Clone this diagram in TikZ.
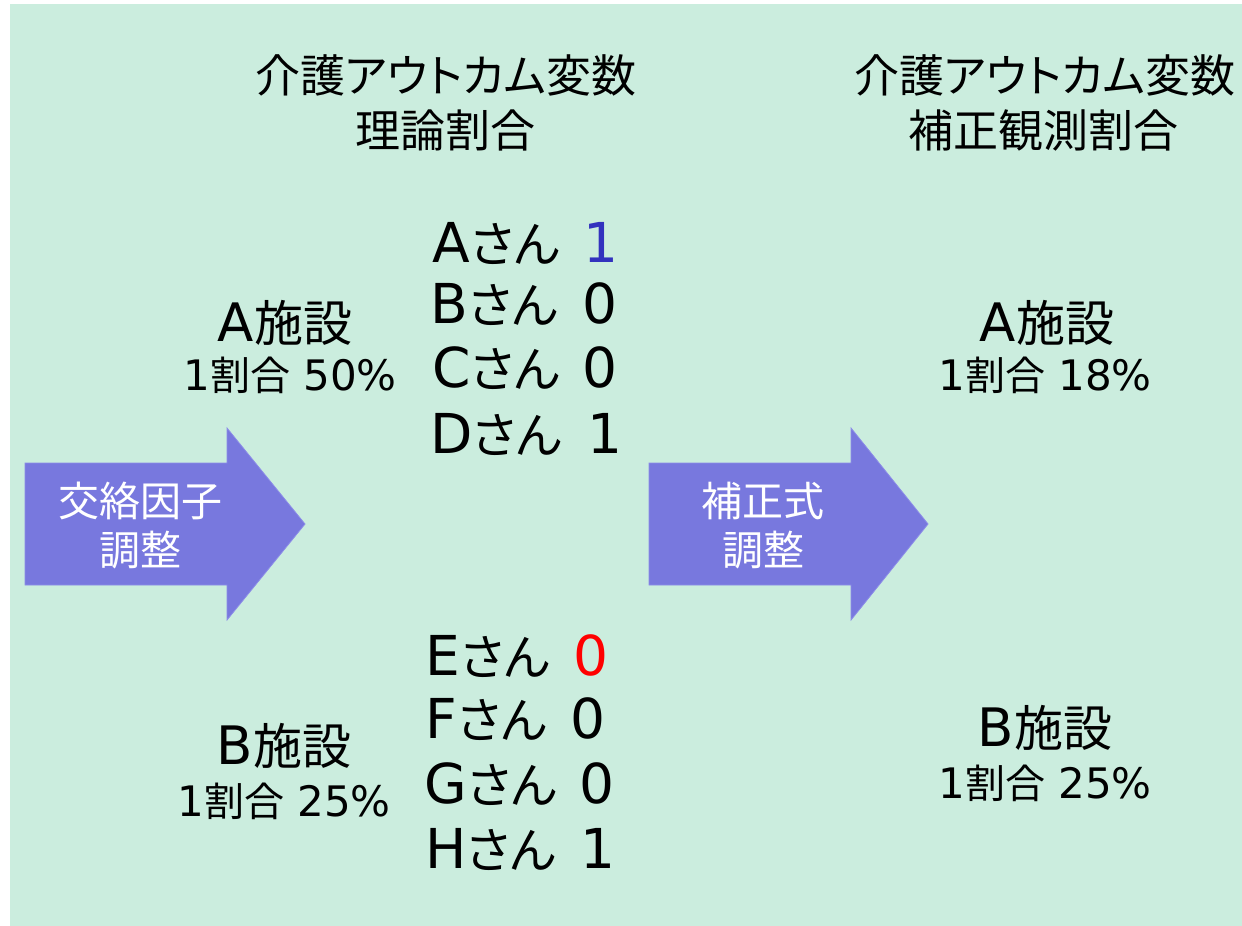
\documentclass[tikz,border=0pt]{standalone}
\usepackage{fontspec}
\setmainfont{DejaVu Sans}
\newfontfamily\jp{Noto Sans CJK JP}
\newfontfamily\jpp[RawFeature=+palt]{Noto Sans CJK JP}
\definecolor{bggreen}{RGB}{203,237,222}
\definecolor{arrowfill}{RGB}{120,120,222}
\definecolor{arrowline}{RGB}{140,140,232}
\definecolor{numblue}{RGB}{50,50,190}
\newcommand\rowtxt[1]{{\fontsize{55}{55}\selectfont #1}{\jpp\fontsize{49}{49}\selectfont さん}}
\newcommand\factxt[1]{{\fontsize{53}{53}\selectfont #1}{\jp\fontsize{49}{49}\selectfont 施設}}
\newcommand\pcttxt[1]{{\fontsize{42}{42}\selectfont 1}{\jp\fontsize{40}{40}\selectfont 割合}{\fontsize{42}{42}\selectfont\ #1\%}}
\tikzset{
  ttl/.style={font=\jpp\fontsize{45}{45}\selectfont, inner sep=0, anchor=center},
  fac/.style={inner sep=0, anchor=center},
  rowname/.style={inner sep=0, anchor=base west},
  num/.style={inner sep=0, anchor=base, font=\fontsize{55}{55}\selectfont},
  arrtxt/.style={font=\jp\fontsize{41}{41}\selectfont, text=white, inner sep=0, anchor=center},
  bigarrow/.style={fill=arrowfill, draw=arrowline, line width=0.8pt, line join=miter}
}
\begin{document}
\begin{tikzpicture}[x=1pt,y=-1pt]
\useasboundingbox (0,0) rectangle (1242,926);
\fill[bggreen] (10,4) rectangle (1242,926);
% arrows
\draw[bigarrow] (25,463) -- (227,463) -- (227,428) -- (305,524) -- (227,620) -- (227,585) -- (25,585) -- cycle;
\draw[bigarrow] (649,463) -- (851,463) -- (851,428) -- (928,524) -- (851,620) -- (851,585) -- (649,585) -- cycle;
\node[arrtxt] (a1) at (140,501) {交絡因子};
\node[arrtxt] (a2) at (140,550) {調整};
\node[arrtxt] (b1) at (763,501) {補正式};
\node[arrtxt] (b2) at (763,550) {調整};
% titles
\node[ttl] (t1) at (446,75) {介護アウトカム変数};
\node[ttl] (t2) at (445,130) {理論割合};
\node[ttl] (t3) at (1045,75) {介護アウトカム変数};
\node[ttl] (t4) at (1043,130) {補正観測割合};
% facilities
\node[fac] (fa) at (285,323) {\factxt{A}};
\node[fac] (pa) at (290,375) {\pcttxt{50}};
\node[fac] (fb) at (284,746) {\factxt{B}};
\node[fac] (pb) at (284,801) {\pcttxt{25}};
\node[fac] (rfa) at (1047,323) {\factxt{A}};
\node[fac] (rpa) at (1045,375) {\pcttxt{18}};
\node[fac] (rfb) at (1045,728) {\factxt{B}};
\node[fac] (rpb) at (1045,783) {\pcttxt{25}};
% persons
\node[rowname] (pA) at (432,262) {\rowtxt{A}};
\node[rowname] (pB) at (430,323) {\rowtxt{B}};
\node[rowname] (pC) at (432,387) {\rowtxt{C}};
\node[rowname] (pD) at (430,453) {\rowtxt{D}};
\node[num, text=numblue] (nA) at (601,262) {1};
\node[num] (nB) at (600,323) {0};
\node[num] (nC) at (600,387) {0};
\node[num] (nD) at (605,453) {1};
\node[rowname] (pE) at (425,675) {\rowtxt{E}};
\node[rowname] (pF) at (425,738) {\rowtxt{F}};
\node[rowname] (pG) at (424,803) {\rowtxt{G}};
\node[rowname] (pH) at (425,868) {\rowtxt{H}};
\node[num, text=red] (nE) at (591,675) {0};
\node[num] (nF) at (588,738) {0};
\node[num] (nG) at (597,803) {0};
\node[num] (nH) at (598,868) {1};
\end{tikzpicture}
\end{document}
